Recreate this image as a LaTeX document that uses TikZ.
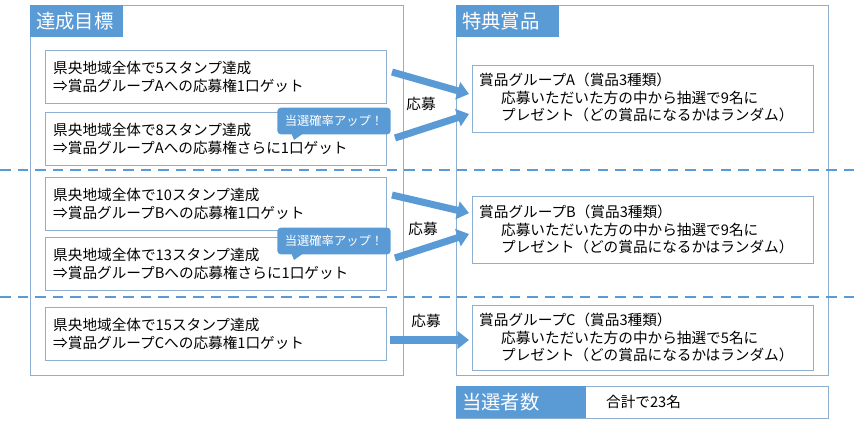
\documentclass[tikz,border=0pt]{standalone}
\usepackage{fontspec}
\setmainfont{Noto Sans CJK JP}
\usetikzlibrary{arrows.meta}
\usetikzlibrary{positioning}
\definecolor{myblue}{RGB}{91,155,213}
\definecolor{myframe}{RGB}{140,175,210}
\newcommand{\bodyfont}{\fontsize{12.5}{15}\selectfont}
\begin{document}
\begin{tikzpicture}[x=0.03cm,y=-0.03cm,
    frame/.style={draw=myframe,line width=0.6pt},
    tab node/.style={text=white,font=\fontsize{16.5}{18}\selectfont,anchor=west,inner sep=0pt},
    goal node/.style={anchor=west,align=left,font=\bodyfont,inner sep=0pt},
    prize node/.style={anchor=north west,align=left,font=\bodyfont,inner sep=0pt},
    up node/.style={fill=myblue,text=white,rounded corners=3pt,font=\fontsize{10.5}{12}\selectfont,minimum width=3.4cm,minimum height=0.8cm},
    big arrow/.style={draw=myblue,line width=6pt,-{Triangle[length=10pt,width=15pt]}}]
  \useasboundingbox (0,0) rectangle (858,422);
  % outer frames
  \draw[frame] (30,5) rectangle (403,375);
  \draw[frame] (456,5) rectangle (828,375);
  \fill[myblue] (30,5) rectangle (123,37);
  \fill[myblue] (456,5) rectangle (559,37);
  \node[tab node] (goal) at (36,21) {達成目標};
  \node[tab node] (prize) at (462,21) {特典賞品};
  % dashed separators
  \draw[myblue,line width=1.5pt,dash pattern=on 9pt off 6pt] (0,170) -- (858,170);
  \draw[myblue,line width=1.5pt,dash pattern=on 9pt off 6pt] (0,297) -- (858,297);
  % goals
  \draw[frame] (45,50) rectangle (386,103);
  \draw[frame] (45,112) rectangle (386,165);
  \draw[frame] (45,177) rectangle (386,230);
  \draw[frame] (45,237) rectangle (386,290);
  \draw[frame] (45,307) rectangle (386,360);
  \node[goal node] (a1) at (53,77) {県央地域全体で5スタンプ達成\\⇒賞品グループAへの応募権1口ゲット};
  \node[goal node] (a2) at (53,139) {県央地域全体で8スタンプ達成\\⇒賞品グループAへの応募権さらに1口ゲット};
  \node[goal node] (b1) at (53,204) {県央地域全体で10スタンプ達成\\⇒賞品グループBへの応募権1口ゲット};
  \node[goal node] (b2) at (53,264) {県央地域全体で13スタンプ達成\\⇒賞品グループBへの応募権さらに1口ゲット};
  \node[goal node] (c1) at (53,334) {県央地域全体で15スタンプ達成\\⇒賞品グループCへの応募権1口ゲット};
  % callouts
  \fill[myblue] (290,130) -- (294,140) -- (308,130) -- cycle;
  \fill[myblue] (290,250) -- (294,260) -- (308,250) -- cycle;
  \node[up node] (upA) at (334,121) {当選確率アップ！};
  \node[up node] (upB) at (334,241) {当選確率アップ！};
  % prizes
  \draw[frame] (472,65) rectangle (813,132);
  \draw[frame] (472,196) rectangle (813,263);
  \draw[frame] (472,305) rectangle (813,370);
  \node[prize node] (pa) at (479,73) {賞品グループA（賞品3種類）\\\hspace{1.5em}応募いただいた方の中から抽選で9名に\\\hspace{1.5em}プレゼント（どの賞品になるかはランダム）};
  \node[prize node] (pb) at (479,205) {賞品グループB（賞品3種類）\\\hspace{1.5em}応募いただいた方の中から抽選で9名に\\\hspace{1.5em}プレゼント（どの賞品になるかはランダム）};
  \node[prize node] (pc) at (479,313) {賞品グループC（賞品3種類）\\\hspace{1.5em}応募いただいた方の中から抽選で5名に\\\hspace{1.5em}プレゼント（どの賞品になるかはランダム）};
  % arrows
  \coordinate (sa1) at (392,72); \coordinate (ta1) at (469,94);
  \coordinate (sa2) at (395,138); \coordinate (ta2) at (469,114);
  \coordinate (sb1) at (392,195); \coordinate (tb1) at (469,213);
  \coordinate (sb2) at (395,258); \coordinate (tb2) at (469,234);
  \coordinate (sc1) at (390,340); \coordinate (tc1) at (469,340);
  \draw[big arrow] (sa1) -- (ta1);
  \draw[big arrow] (sa2) -- (ta2);
  \draw[big arrow] (sb1) -- (tb1);
  \draw[big arrow] (sb2) -- (tb2);
  \draw[big arrow] (sc1) -- (tc1);
  \node[font=\bodyfont] (ga) at (421,104) {応募};
  \node[font=\bodyfont] (gb) at (423,229) {応募};
  \node[font=\bodyfont] (gc) at (426,321) {応募};
  % total
  \draw[frame] (456,386) rectangle (828,418);
  \fill[myblue] (456,386) rectangle (586,418);
  \node[tab node] (total) at (462,402) {当選者数};
  \node[font=\bodyfont,anchor=west] (sum) at (602,402) {合計で23名};
\end{tikzpicture}
\end{document}
